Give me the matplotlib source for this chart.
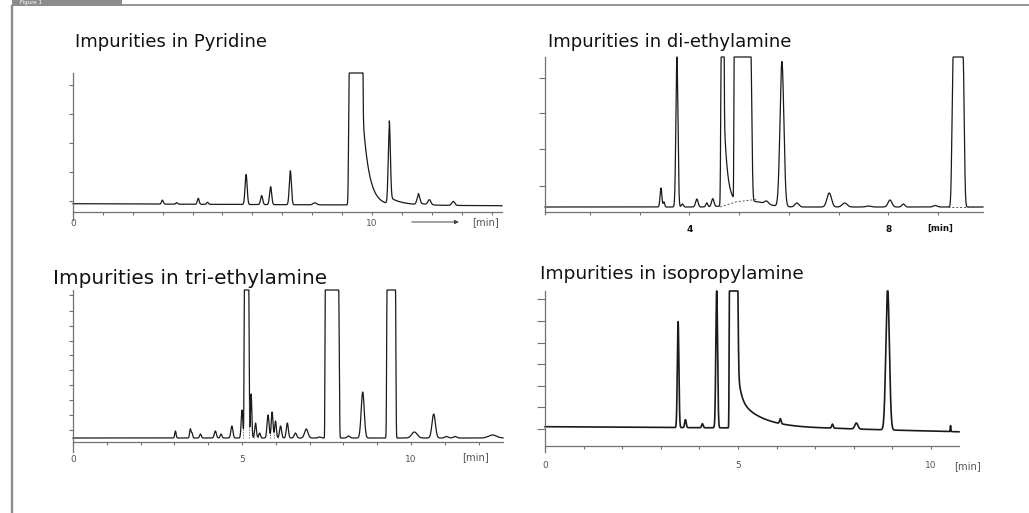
import numpy as np
import matplotlib.pyplot as plt
from matplotlib import transforms
from matplotlib.patches import Rectangle
from matplotlib.lines import Line2D

W, H = 1029, 513

# peak tables
#   on-scale peaks: time (min), height above baseline, sigma (min)
#   off-scale peaks: start / end of the clipped plateau (min), edge sigma left / right
#   tails: start (min), amplitude, decay constant (min)

# Impurities in Pyridine
pyr_peak_t = [2.99, 3.47, 4.19, 4.50, 5.79, 6.31, 6.61, 7.27, 8.09, 10.58, 11.55, 11.92, 12.72]
pyr_peak_h = [4, 1.5, 6, 2, 30, 9, 18, 34, 2, 76, 9, 5, 4]
pyr_peak_w = [0.03, 0.03, 0.03, 0.03, 0.035, 0.035, 0.035, 0.035, 0.06, 0.035, 0.045, 0.05, 0.05]
pyr_off_start = [9.24]
pyr_off_end = [9.68]
pyr_off_wl = [0.02]
pyr_off_wr = [0.015]
pyr_tail_t = [9.68, 10.58, 11.55]
pyr_tail_a = [95, 7, 2]
pyr_tail_tau = [0.21, 0.45, 0.2]
pyr_base_t = [0, 14.35]
pyr_base_y = [8.3, 6.3]

# Impurities in di-ethylamine
dea_peak_t = [3.43, 3.49, 3.75, 3.86, 4.15, 4.35, 4.47, 5.2, 5.55, 5.86, 6.16, 6.81, 7.12, 7.6, 8.03, 8.3, 8.94]
dea_peak_h = [19, 5, 152, 3, 8, 4, 8, 6, 3, 145, 4, 14, 4, 1, 7, 3, 1.5]
dea_peak_w = [0.018, 0.015, 0.02, 0.02, 0.025, 0.02, 0.025, 0.3, 0.04, 0.038, 0.04, 0.045, 0.05, 0.05, 0.04, 0.03, 0.04]
dea_off_start = [4.64, 4.90, 9.30]
dea_off_end = [4.69, 5.235, 9.50]
dea_off_wl = [0.01, 0.006, 0.022]
dea_off_wr = [0.008, 0.02, 0.022]
dea_tail_t = [4.69]
dea_tail_a = [100]
dea_tail_tau = [0.07]
dea_base_t = [1.1, 9.9]
dea_base_y = [5, 5]
dea_dash_t = [4.62, 4.95, 5.38]
dea_dash_y = [5, 10.3, 12.7]

# Impurities in tri-ethylamine
tea_peak_t = [3.03, 3.47, 3.52, 3.77, 4.21, 4.38, 4.70, 5.00, 5.27, 5.40, 5.52, 5.77, 5.89, 5.99,
              6.14, 6.34, 6.58, 6.90, 7.29, 8.15, 8.57, 10.10, 10.67, 11.05, 11.30, 12.41]
tea_peak_h = [7, 9, 5, 4, 7, 4, 12, 28, 44, 15, 5, 23, 26, 17,
              12, 15, 5, 9, 1, 2, 46, 6, 24, 1.5, 1.5, 3]
tea_peak_w = [0.02, 0.02, 0.02, 0.025, 0.03, 0.025, 0.03, 0.025, 0.02, 0.025, 0.025, 0.03, 0.025, 0.025,
              0.03, 0.03, 0.035, 0.05, 0.04, 0.04, 0.045, 0.08, 0.05, 0.05, 0.05, 0.12]
tea_off_start = [5.07, 7.46, 9.29]
tea_off_end = [5.20, 7.86, 9.54]
tea_off_wl = [0.01, 0.008, 0.012]
tea_off_wr = [0.012, 0.015, 0.012]
tea_base_t = [0, 12.72]
tea_base_y = [4, 4]
tea_drop_t = [5.04, 5.22, 5.34, 5.46, 5.83, 5.94, 6.05]

# Impurities in isopropylamine
ipa_peak_t = [3.45, 3.64, 4.08, 4.45, 6.10, 7.45, 8.07, 8.88, 10.51]
ipa_peak_h = [106, 8, 4, 139, 5, 4, 6, 142, 6]
ipa_peak_w = [0.02, 0.02, 0.02, 0.022, 0.02, 0.02, 0.04, 0.045, 0.008]
ipa_off_start = [4.78]
ipa_off_end = [4.98]
ipa_off_wl = [0.008]
ipa_off_wr = [0.02]
ipa_tail_t = [4.98, 4.98]
ipa_tail_a = [35, 30]
ipa_tail_tau = [0.08, 0.6]
ipa_base_t = [0, 7.5, 10.73]
ipa_base_y = [19.3, 17.4, 14.2]

AX_COL = '#707070'
LINE_COL = '#1a1a1a'
LBL_COL = '#555555'


def trace(t, peaks, off, tails, base_t, base_y, clip):
    base = np.interp(t, base_t, base_y)
    y = base.copy()
    for t0, h, w in zip(*peaks):
        y = y + h * np.exp(-0.5 * ((t - t0) / w) ** 2)
    for t1, t2, wl, wr in zip(*off):
        d_l = np.clip(t1 - t, 0, None) / wl
        d_r = np.clip(t - t2, 0, None) / wr
        y = y + (clip - base) * np.exp(-0.5 * (d_l + d_r) ** 2)
    for t0, a, tau in zip(*tails):
        dt = t - t0
        y = y + np.where(dt >= 0, a * np.exp(-np.clip(dt, 0, None) / tau), 0.0)
    return np.minimum(y, clip)


def px_axes(fig, x0, x1, ytop, ybot):
    return fig.add_axes([x0 / W, 1 - ybot / H, (x1 - x0) / W, (ybot - ytop) / H])


def style(ax, xlim, ylim, xticks, xlabels, yticks, ylen, xpad, lab_kw):
    ax.set_xlim(*xlim)
    ax.set_ylim(*ylim)
    for s in ['top', 'right']:
        ax.spines[s].set_visible(False)
    ax.spines['bottom'].set_position(('data', 0))
    for s in ['bottom', 'left']:
        ax.spines[s].set_color(AX_COL)
        ax.spines[s].set_linewidth(0.9)
    ax.set_xticks(xticks)
    ax.set_xticklabels([xlabels.get(v, '') for v in xticks], **lab_kw)
    ax.set_yticks(yticks)
    ax.set_yticklabels([])
    ax.tick_params(axis='x', direction='out', length=2.5, width=0.8, color=AX_COL, pad=xpad)
    ax.tick_params(axis='y', direction='out', length=ylen, width=0.8, color=AX_COL)
    ax.patch.set_alpha(0)


def below(ax, fig, px):
    return transforms.offset_copy(ax.transData, fig=fig, y=-px * 0.72, units='points')


fig = plt.figure(figsize=(W / 100, H / 100), dpi=100)

# frame
fig.add_artist(Rectangle((12 / W, 1 - 6 / H), 110 / W, 6 / H, transform=fig.transFigure,
                         color='#8c8c8c', lw=0))
fig.add_artist(Line2D([122 / W, 1], [1 - 4.8 / H] * 2, lw=1.3, color='#8c8c8c'))
fig.add_artist(Line2D([12 / W] * 2, [0, 1 - 6 / H], lw=1.7, color='#8c8c8c'))
fig.text(20 / W, 1 - 3 / H, 'Figure 1', color='white', fontsize=4, va='center')

gray_lbl = dict(fontsize=6.5, color=LBL_COL)

# --- Pyridine ---
ax1 = px_axes(fig, 73, 502, 73, 220)
t = np.linspace(0, 14.35, 8000)
y1 = trace(t, (pyr_peak_t, pyr_peak_h, pyr_peak_w),
           (pyr_off_start, pyr_off_end, pyr_off_wl, pyr_off_wr),
           (pyr_tail_t, pyr_tail_a, pyr_tail_tau), pyr_base_t, pyr_base_y, 139)
ax1.plot(t, y1, color=LINE_COL, lw=0.9, clip_on=False)
style(ax1, (0, 14.35), (-8, 139), list(range(0, 15)), {0: '0', 10: '10'},
      [11, 40, 69, 98, 127], 3, 2.7, gray_lbl)
tr = below(ax1, fig, 10)
ax1.annotate('', xy=(13.0, 0), xytext=(11.24, 0), xycoords=tr, textcoords=tr,
             arrowprops=dict(arrowstyle='-|>', color='#444444', lw=0.7, mutation_scale=6),
             annotation_clip=False)
ax1.text(13.8, 0, '[min]', transform=tr, ha='center', va='center', fontsize=7.2, color=LBL_COL)
fig.text(75 / W, 1 - 46.7 / H, 'Impurities in Pyridine', fontsize=13, color='#111111', va='baseline')

# --- di-ethylamine ---
ax2 = px_axes(fig, 545, 983, 57, 214)
t = np.linspace(1.1, 9.9, 9000)
y2 = trace(t, (dea_peak_t, dea_peak_h, dea_peak_w),
           (dea_off_start, dea_off_end, dea_off_wl, dea_off_wr),
           (dea_tail_t, dea_tail_a, dea_tail_tau), dea_base_t, dea_base_y, 155)
ax2.plot(t, y2, color=LINE_COL, lw=0.9, clip_on=False)
ax2.plot(dea_dash_t, dea_dash_y, color='#555555', lw=0.7, ls=(0, (2, 2)))
ax2.plot([9.2, 9.75], [5, 5], color='#555555', lw=0.7, ls=(0, (2, 2)))
style(ax2, (1.1, 9.9), (-2, 155), list(range(2, 10)), {4: '4', 8: '8'},
      [26, 63, 99, 134], 4, 7.2, dict(fontsize=6.5, color='#111111', fontweight='bold'))
ax2.text(9.04, 0, '[min]', transform=below(ax2, fig, 16), ha='center', va='center',
         fontsize=6.2, color='#111111', fontweight='bold')
fig.text(548 / W, 1 - 46.7 / H, 'Impurities in di-ethylamine', fontsize=13, color='#111111', va='baseline')

# --- tri-ethylamine ---
ax3 = px_axes(fig, 73, 503, 290, 452)
t = np.linspace(0, 12.72, 10000)
y3 = trace(t, (tea_peak_t, tea_peak_h, tea_peak_w),
           (tea_off_start, tea_off_end, tea_off_wl, tea_off_wr),
           ([], [], []), tea_base_t, tea_base_y, 152)
ax3.plot(t, y3, color=LINE_COL, lw=0.9, clip_on=False)
ax3.vlines(tea_drop_t, 4, np.interp(tea_drop_t, t, y3), colors='#555555', lw=0.6,
           linestyles=(0, (1.5, 1.5)))
style(ax3, (0, 12.72), (-10, 152), list(range(0, 13)), {0: '0', 5: '5', 10: '10'},
      [12, 27, 42, 57, 72, 87, 101, 116, 131, 147], 3, 6.5, gray_lbl)
ax3.text(11.9, 0, '[min]', transform=below(ax3, fig, 15), ha='center', va='center',
         fontsize=7.2, color=LBL_COL)
fig.text(53 / W, 1 - 284.3 / H, 'Impurities in tri-ethylamine', fontsize=14.4, color='#111111', va='baseline')

# --- isopropylamine ---
ax4 = px_axes(fig, 545, 959, 291, 452)
t = np.linspace(0, 10.73, 9000)
y4 = trace(t, (ipa_peak_t, ipa_peak_h, ipa_peak_w),
           (ipa_off_start, ipa_off_end, ipa_off_wl, ipa_off_wr),
           (ipa_tail_t, ipa_tail_a, ipa_tail_tau), ipa_base_t, ipa_base_y, 155)
ax4.plot(t, y4, color=LINE_COL, lw=1.2, clip_on=False)
style(ax4, (0, 10.73), (-6, 155), list(range(0, 11)), {0: '0', 5: '5', 10: '10'},
      [17, 39, 60, 82, 103, 125, 147], 6, 8.6, gray_lbl)
ax4.text(10.96, 0, '[min]', transform=below(ax4, fig, 20), ha='center', va='center',
         fontsize=7.2, color=LBL_COL)
fig.text(540 / W, 1 - 279.3 / H, 'Impurities in isopropylamine', fontsize=13.3, color='#111111', va='baseline')

fig.savefig('out.png', dpi=100)
